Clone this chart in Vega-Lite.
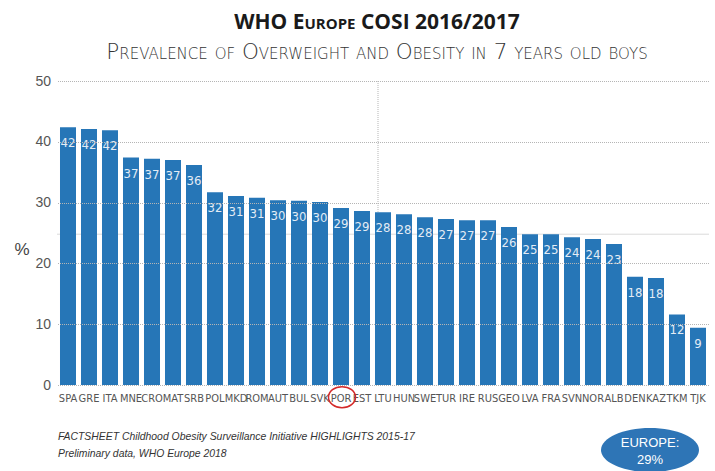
{
  "$schema": "https://vega.github.io/schema/vega-lite/v6.json",
  "width": 651,
  "height": 304,
  "autosize": {"type": "none"},
  "padding": {"left": 57.5, "top": 81, "right": 6.5, "bottom": 86},
  "background": "white",
  "title": {
    "text": "WHO Europe COSI 2016/2017",
    "subtitle": "Prevalence of Overweight and Obesity in 7 years old boys",
    "anchor": "middle",
    "frame": "group",
    "dx": -6,
    "font": "Open Sans",
    "fontSize": 21,
    "fontWeight": "bold",
    "color": "#1a1a1a",
    "subtitleFont": "DejaVu Sans",
    "subtitleFontSize": 21.5,
    "subtitleFontWeight": 200,
    "subtitleColor": "#333333",
    "subtitlePadding": 9,
    "offset": 11,
    "encode": {
      "title": {"update": {"fontVariant": {"value": "small-caps"}}},
      "subtitle": {"update": {"fontVariant": {"value": "small-caps"}}}
    }
  },
  "datasets": {
    "boys": [
      {"country": "SPA", "value": 42.4},
      {"country": "GRE", "value": 42.1},
      {"country": "ITA", "value": 41.9},
      {"country": "MNE", "value": 37.4},
      {"country": "CRO", "value": 37.2},
      {"country": "MAT", "value": 37.0},
      {"country": "SRB", "value": 36.2},
      {"country": "POL", "value": 31.7},
      {"country": "MKD", "value": 31.1},
      {"country": "ROM", "value": 30.8},
      {"country": "AUT", "value": 30.4},
      {"country": "BUL", "value": 30.3},
      {"country": "SVK", "value": 30.1},
      {"country": "POR", "value": 29.1},
      {"country": "EST", "value": 28.6},
      {"country": "LTU", "value": 28.4},
      {"country": "HUN", "value": 28.1},
      {"country": "SWE", "value": 27.6},
      {"country": "TUR", "value": 27.3},
      {"country": "IRE", "value": 27.1},
      {"country": "RUS", "value": 27.1},
      {"country": "GEO", "value": 26.0},
      {"country": "LVA", "value": 24.8},
      {"country": "FRA", "value": 24.8},
      {"country": "SVN", "value": 24.3},
      {"country": "NOR", "value": 24.0},
      {"country": "ALB", "value": 23.2},
      {"country": "DEN", "value": 17.8},
      {"country": "KAZ", "value": 17.6},
      {"country": "TKM", "value": 11.6},
      {"country": "TJK", "value": 9.4}
    ],
    "europe": [
      {"label": "EUROPE:", "prevalence": 0.29}
    ]
  },
  "layer": [
    {
      "data": {"name": "europe"},
      "mark": {"type": "rule", "strokeDash": [1, 1], "color": "#b5b5b5"},
      "encoding": {
        "y": {"datum": 24.8, "type": "quantitative"}
      }
    },
    {
      "data": {"name": "boys"},
      "mark": {"type": "bar", "color": "#2676b7"},
      "encoding": {
        "x": {
          "field": "country",
          "type": "nominal",
          "sort": null,
          "scale": {"paddingInner": 0.238, "paddingOuter": 0.119},
          "axis": {
            "labelAngle": 0,
            "domain": false,
            "ticks": false,
            "labelPadding": 7,
            "labelFont": "DejaVu Sans Condensed",
            "labelFontSize": 11,
            "labelColor": "#555555",
            "labelOverlap": false,
            "title": ["FACTSHEET Childhood Obesity Surveillance Initiative HIGHLIGHTS 2015-17", "Preliminary data, WHO Europe 2018"],
            "titleFont": "Liberation Sans",
            "titleFontStyle": "italic",
            "titleFontWeight": "normal",
            "titleFontSize": 10.4,
            "titleColor": "#333333",
            "titleAnchor": "start",
            "titleAlign": "left",
            "titleBaseline": "top",
            "titleX": 0,
            "titleY": 46,
            "titleLineHeight": 17
          }
        },
        "y": {
          "field": "value",
          "type": "quantitative",
          "scale": {"domain": [0, 50], "nice": false},
          "axis": {
            "values": [0, 10, 20, 30, 40, 50],
            "zindex": 1,
            "domain": false,
            "ticks": false,
            "grid": true,
            "gridDash": [1, 1],
            "gridColor": "#b5b5b5",
            "labelPadding": 7,
            "labelFont": "Liberation Sans",
            "labelFontSize": 14,
            "labelColor": "#555555",
            "title": "%",
            "titleAngle": 0,
            "titleAlign": "center",
            "titleBaseline": "middle",
            "titleX": -36,
            "titleY": 168,
            "titleFont": "Liberation Sans",
            "titleFontSize": 17,
            "titleFontWeight": "normal",
            "titleColor": "#444444"
          }
        }
      }
    },
    {
      "data": {"name": "boys"},
      "mark": {
        "type": "text",
        "baseline": "top",
        "align": "center",
        "dy": 10,
        "font": "DejaVu Sans Condensed",
        "fontSize": 13,
        "color": "#e3ecf5"
      },
      "encoding": {
        "x": {"field": "country", "type": "nominal", "sort": null},
        "y": {"field": "value", "type": "quantitative"},
        "text": {"field": "value", "type": "quantitative", "format": ".0f"}
      }
    },
    {
      "data": {"name": "europe"},
      "mark": {"type": "rule", "strokeDash": [1, 1], "color": "#b5b5b5", "xOffset": -5},
      "encoding": {
        "x": {"datum": "LTU", "type": "nominal"},
        "y": {"datum": 50, "type": "quantitative"},
        "y2": {"datum": 28.5}
      }
    },
    {
      "data": {"name": "europe"},
      "mark": {
        "type": "point",
        "shape": "M -1 0 A 1 0.78 0 1 0 1 0 A 1 0.78 0 1 0 -1 0 Z",
        "size": 729,
        "filled": false,
        "opacity": 1,
        "color": "#d42a2a",
        "strokeWidth": 1.5,
        "xOffset": 1
      },
      "encoding": {
        "x": {"datum": "POR", "type": "nominal"},
        "y": {"datum": -2.0, "type": "quantitative"}
      }
    },
    {
      "data": {"name": "europe"},
      "mark": {
        "type": "point",
        "shape": "M -1 0 A 1 0.45 0 1 0 1 0 A 1 0.45 0 1 0 -1 0 Z",
        "size": 9604,
        "filled": true,
        "opacity": 1,
        "color": "#2e75b6",
        "xOffset": -6
      },
      "encoding": {
        "x": {"datum": "KAZ", "type": "nominal"},
        "y": {"datum": -10.7, "type": "quantitative"}
      }
    },
    {
      "data": {"name": "europe"},
      "mark": {
        "type": "text",
        "baseline": "middle",
        "align": "center",
        "dy": -7,
        "xOffset": -6,
        "font": "Liberation Sans",
        "fontSize": 13,
        "color": "white"
      },
      "encoding": {
        "x": {"datum": "KAZ", "type": "nominal"},
        "y": {"datum": -10.7, "type": "quantitative"},
        "text": {"field": "label"}
      }
    },
    {
      "data": {"name": "europe"},
      "mark": {
        "type": "text",
        "baseline": "middle",
        "align": "center",
        "dy": 10,
        "xOffset": -6,
        "font": "Liberation Sans",
        "fontSize": 13,
        "color": "white"
      },
      "encoding": {
        "x": {"datum": "KAZ", "type": "nominal"},
        "y": {"datum": -10.7, "type": "quantitative"},
        "text": {"field": "prevalence", "type": "quantitative", "format": ".0%"}
      }
    }
  ],
  "config": {
    "view": {"stroke": null}
  }
}
